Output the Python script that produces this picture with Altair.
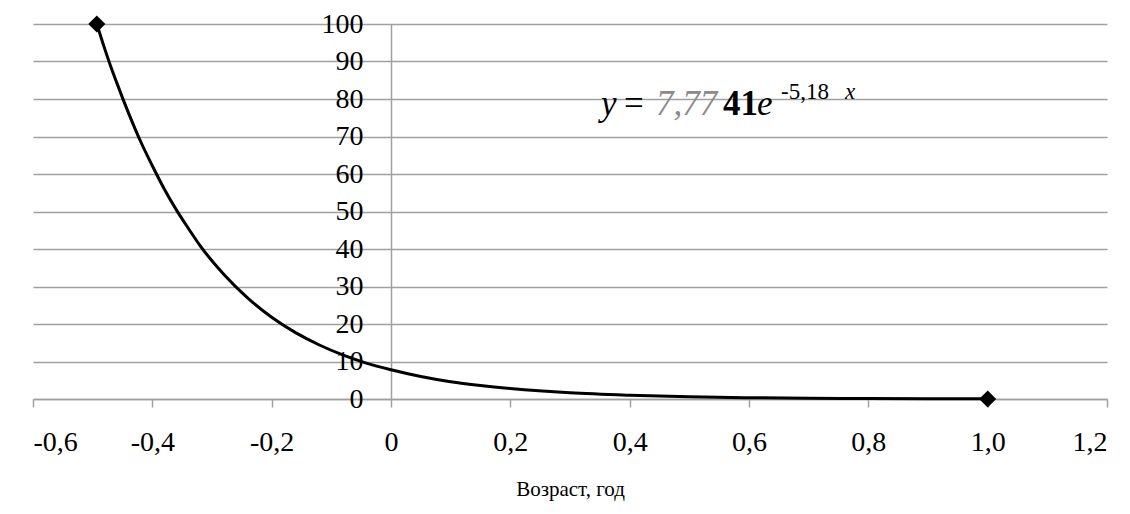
import altair as alt
import pandas as pd

# Trend curve
curve_x = [-0.493, -0.48, -0.47, -0.46, -0.45, -0.44, -0.42, -0.40, -0.38, -0.36,
           -0.34, -0.32, -0.28, -0.24, -0.20, -0.16, -0.12, -0.08, -0.04, 0.0,
           0.05, 0.10, 0.15, 0.20, 0.30, 0.40, 0.50, 0.60, 0.70, 0.80, 0.90, 1.00]
curve_y = [100, 93.5, 88.8, 84.5, 80.3, 76.3, 68.8, 62.2, 56.0, 50.5,
           45.6, 40.9, 33.2, 26.9, 21.8, 17.7, 14.4, 11.7, 9.5, 7.8,
           6.0, 4.6, 3.6, 2.8, 1.65, 1.0, 0.58, 0.35, 0.2, 0.12, 0.07, 0.04]

# Data points (diamonds)
point_x = [-0.493, 1.0]
point_y = [100, 0]

x_ticks = [-0.6, -0.4, -0.2, 0, 0.2, 0.4, 0.6, 0.8, 1.0, 1.2]
y_ticks = [0, 10, 20, 30, 40, 50, 60, 70, 80, 90, 100]

FONT = "Liberation Serif"
GRID = "#a0a0a0"

curve_df = pd.DataFrame({"x": curve_x, "y": curve_y})
pts_df = pd.DataFrame({"x": point_x, "y": point_y})
one = pd.DataFrame({"a": [0]})

W, H = 1074, 375

xscale = alt.Scale(domain=[-0.6, 1.2], nice=False, zero=False)
yscale = alt.Scale(domain=[0, 100], nice=False)

x_axis = alt.Axis(
    values=x_ticks,
    labelExpr="datum.value == 0 ? '0' : replace(replace(format(datum.value, '.1f'), '.', ','), '\u2212', '-')",
    title="Возраст, год",
    grid=False, labelOverlap=False,
    domainColor=GRID, tickColor=GRID, tickSize=8, tickWidth=1.5, domainWidth=1.5,
    labelFont=FONT, labelFontSize=28, labelColor="black", labelPadding=21,
    titleFont=FONT, titleFontSize=21, titleFontWeight="normal", titleColor="black",
    titlePadding=22,
)
y_axis = alt.Axis(
    values=y_ticks, tickCount=11,
    title=None, labelOverlap=False,
    grid=True, gridColor=GRID, gridWidth=1.5,
    domainColor=GRID, domainWidth=1.5, ticks=False,
    labelFont=FONT, labelFontSize=28, labelColor="black", labelPadding=28,
    labelBaseline="middle",
    offset=-358,
)

curve = alt.Chart(curve_df).mark_line(color="black", strokeWidth=3, interpolate="monotone").encode(
    x=alt.X("x:Q", scale=xscale, axis=x_axis),
    y=alt.Y("y:Q", scale=yscale, axis=y_axis),
)
pts = alt.Chart(pts_df).mark_point(shape="diamond", filled=True, color="black", size=290, opacity=1).encode(
    x=alt.X("x:Q", scale=xscale, axis=x_axis),
    y=alt.Y("y:Q", scale=yscale, axis=y_axis),
)

def txt(s, px, py, size=35, color="black", style="normal", weight="normal"):
    return alt.Chart(one).mark_text(
        text=s, font=FONT, fontSize=size, color=color, fontStyle=style,
        fontWeight=weight, align="left", baseline="alphabetic",
    ).encode(x=alt.value(px), y=alt.value(py))

eq = [
    txt("y", 568, 91, style="italic"),
    txt("=", 591, 91),
    txt("7,77", 623, 91, color="#8a8a8a", style="italic"),
    txt("41", 690, 91, weight="bold"),
    txt("e", 724, 91, style="italic"),
    txt("-5,18", 748, 75, size=23),
    txt("x", 812, 75, size=23, style="italic"),
]

chart = alt.layer(curve, pts, *eq).properties(
    width=W, height=H,
    autosize=alt.AutoSizeParams(type="none"),
    padding={"left": 33, "top": 24, "right": 23, "bottom": 115},
).configure_view(stroke=None)

chart.save("out.html", embed_options={"renderer": "svg", "actions": False})
